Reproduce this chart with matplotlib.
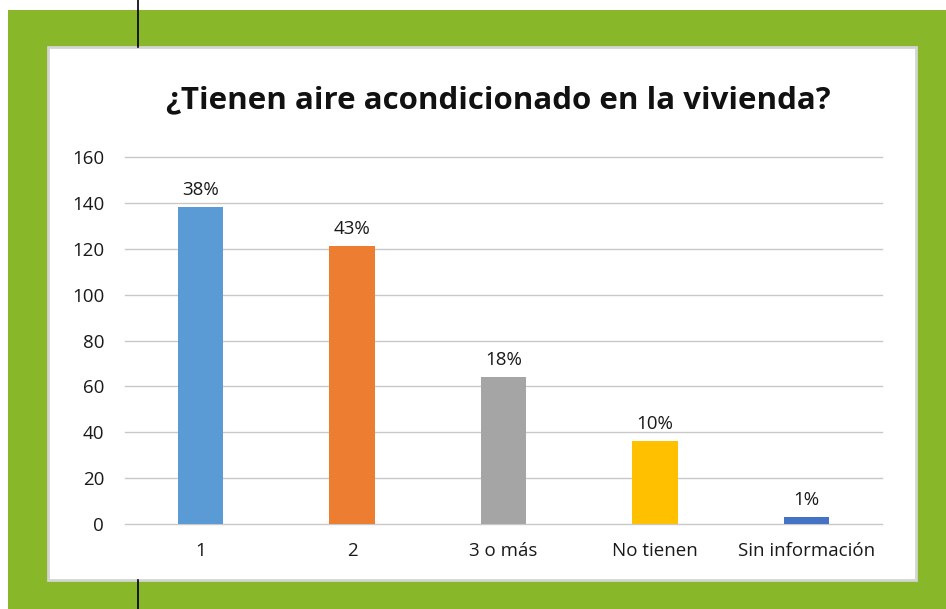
import matplotlib
matplotlib.use("Agg")
from matplotlib import pyplot as plt
from matplotlib.patches import Rectangle
from matplotlib.lines import Line2D

categories = ["1", "2", "3 o más", "No tienen", "Sin información"]
values = [138, 121, 64, 36, 3]
pct_labels = ["38%", "43%", "18%", "10%", "1%"]
bar_colors = ["#5b9bd5", "#ed7d31", "#a5a5a5", "#ffc000", "#4472c4"]
y_ticks = [0, 20, 40, 60, 80, 100, 120, 140, 160]

W, H = 946, 609
plt.rcParams['font.family'] = ['Open Sans', 'DejaVu Sans']


def fx(px):
    return px / W


def fy(py):
    return 1 - py / H


fig = plt.figure(figsize=(W / 100, H / 100), dpi=100, facecolor="white")

# green frame and white inner card
fig.patches.append(Rectangle((fx(8), fy(H)), fx(W) - fx(8), fy(10) - fy(H),
                             transform=fig.transFigure, facecolor="#89b72a",
                             edgecolor="none", zorder=0))
fig.patches.append(Rectangle((fx(48), fy(580)), fx(916) - fx(48), fy(47) - fy(580),
                             transform=fig.transFigure, facecolor="white",
                             edgecolor="#d4d4d4", linewidth=2, zorder=1))
for y0, y1 in [(0, 47), (580, H)]:
    fig.lines.append(Line2D([fx(138), fx(138)], [fy(y0), fy(y1)],
                            transform=fig.transFigure, color="black",
                            linewidth=1.2, zorder=2))

ax = fig.add_axes([fx(125), fy(524), fx(882) - fx(125), fy(157) - fy(524)])
ax.set_facecolor("none")
ax.set_zorder(3)

x = list(range(len(categories)))
bars = ax.bar(x, values, width=0.30, color=bar_colors, zorder=3)
for b, lab in zip(bars, pct_labels):
    ax.annotate(lab, (b.get_x() + b.get_width() / 2, b.get_height()),
                xytext=(0, 6), textcoords="offset points",
                ha="center", va="bottom", fontsize=13.5, color="#1a1a1a")

ax.set_xlim(-0.5, len(categories) - 0.5)
ax.set_ylim(0, 160)
ax.set_yticks(y_ticks)
ax.set_xticks(x)
ax.set_xticklabels(categories)
ax.tick_params(axis="both", length=0, labelsize=13.5, colors="#1a1a1a")
ax.tick_params(axis="y", pad=15)
ax.tick_params(axis="x", pad=13)
ax.yaxis.grid(True, color="#c8c8c8", linewidth=1)
for gl in ax.get_ygridlines():
    gl.set_clip_on(False)
ax.set_axisbelow(True)
for s in ["top", "right", "left", "bottom"]:
    ax.spines[s].set_visible(False)

fig.text(fx(498), fy(100), "¿Tienen aire acondicionado en la vivienda?",
         ha="center", va="center", fontsize=22.5, fontweight="bold",
         color="#111111", zorder=4)

fig.savefig("out.png", dpi=100, facecolor=fig.get_facecolor())
